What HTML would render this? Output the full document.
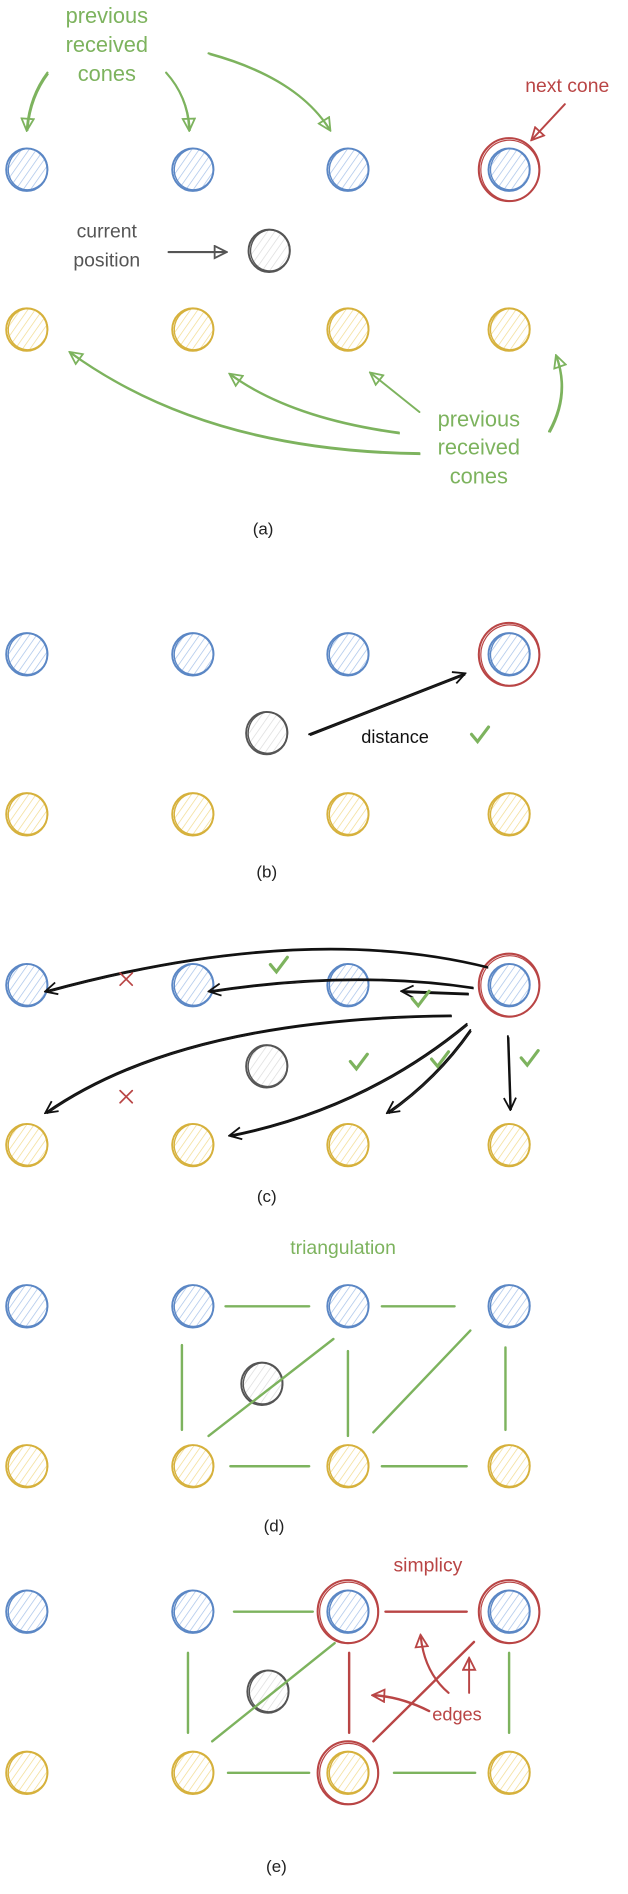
<!DOCTYPE html>
<html><head><meta charset="utf-8"><style>
html,body{margin:0;padding:0;background:#fff;}
svg{display:block;}
.hand{font-family:"Comic Sans MS","Liberation Sans",sans-serif;}
.cap{font-family:"Liberation Sans",sans-serif;font-size:14px;fill:#222;}
</style></head><body>
<svg id="s" width="628" height="1894" viewBox="0 0 518 1563" xmlns="http://www.w3.org/2000/svg">
<defs>
<pattern id="hb" width="5" height="5" patternUnits="userSpaceOnUse" patternTransform="rotate(35)"><line x1="0" y1="0" x2="0" y2="5" stroke="#a9c4ea" stroke-width="1.2"/></pattern>
<pattern id="hy" width="5" height="5" patternUnits="userSpaceOnUse" patternTransform="rotate(35)"><line x1="0" y1="0" x2="0" y2="5" stroke="#f3dc92" stroke-width="1.2"/></pattern>
<pattern id="hk" width="5" height="5" patternUnits="userSpaceOnUse" patternTransform="rotate(35)"><line x1="0" y1="0" x2="0" y2="5" stroke="#ddd" stroke-width="1.2"/></pattern>
<marker id="ag" viewBox="0 0 12 12" refX="10" refY="6" markerWidth="12" markerHeight="12" orient="auto" markerUnits="userSpaceOnUse"><path d="M1,1 L11,6 L1,11 Z" fill="none" stroke="#7db35e" stroke-width="1.5"/></marker>
<marker id="ar" viewBox="0 0 12 12" refX="10" refY="6" markerWidth="12" markerHeight="12" orient="auto" markerUnits="userSpaceOnUse"><path d="M1,1 L11,6 L1,11 Z" fill="none" stroke="#b94545" stroke-width="1.5"/></marker>
<marker id="ak" viewBox="0 0 12 12" refX="10" refY="6" markerWidth="12" markerHeight="12" orient="auto" markerUnits="userSpaceOnUse"><path d="M1,1 L11,6 L1,11" fill="none" stroke="#111" stroke-width="1.5"/></marker>
<marker id="ad" viewBox="0 0 12 12" refX="10" refY="6" markerWidth="12" markerHeight="12" orient="auto" markerUnits="userSpaceOnUse"><path d="M1,1 L11,6 L1,11 Z" fill="none" stroke="#555" stroke-width="1.5"/></marker>
</defs>
<g id="g"></g>
</svg>
<script>
const NS='http://www.w3.org/2000/svg';
const G=document.getElementById('g');
const colX=[22,159,287,420];
const BLUE='#5b87c5',YEL='#d6b13c',RED='#b94545',GRN='#7db35e',GRY='#555';
const panels=[
 {by:140,yy:272,cx:222,cy:207,reds:[[3,'b']]},
 {by:540,yy:672,cx:220,cy:605,reds:[[3,'b']]},
 {by:813,yy:945,cx:220,cy:880,reds:[[3,'b']]},
 {by:1078,yy:1210,cx:216,cy:1142,reds:[]},
 {by:1330,yy:1463,cx:221,cy:1396,reds:[[2,'b'],[3,'b'],[2,'y']]}
];
function mk(tag,attrs,parent){const e=document.createElementNS(NS,tag);for(const k in attrs)e.setAttribute(k,attrs[k]);(parent||G).appendChild(e);return e;}
function cone(x,y,stroke,fill,name){
  const g=mk('g',{});
  
  
  mk('ellipse',{cx:x,cy:y,rx:17,ry:17.5,fill:'url(#'+fill+')',stroke:stroke,'stroke-width':1.6},g);
  mk('ellipse',{cx:x+0.8,cy:y-0.6,rx:16.2,ry:17,fill:'none',stroke:stroke,'stroke-width':1.1,transform:'rotate(15 '+x+' '+y+')'},g);
}
function ring(x,y,name){
  const g=mk('g',{});
  
  
  mk('ellipse',{cx:x,cy:y,rx:25,ry:26,fill:'none',stroke:RED,'stroke-width':1.7},g);
  mk('ellipse',{cx:x+0.6,cy:y+0.8,rx:24,ry:25,fill:'none',stroke:RED,'stroke-width':1,transform:'rotate(-10 '+x+' '+y+')'},g);
}
panels.forEach((p,i)=>{
  colX.forEach((x,j)=>{cone(x,p.by,BLUE,'hb','blue-cone');cone(x,p.yy,YEL,'hy','yellow-cone');});
  cone(p.cx,p.cy,GRY,'hk','current-position-marker');
  p.reds.forEach(r=>ring(colX[r[0]],r[1]=='b'?p.by:p.yy,'next-cone-ring'));
});
function path(d,stroke,w,marker,name,dbl){
  const e=mk('path',{d:d,fill:'none',stroke:stroke,'stroke-width':w,'stroke-linecap':'round'});
  if(marker)e.setAttribute('marker-end','url(#'+marker+')');
  
  
  if(dbl){const f=mk('path',{d:d,fill:'none',stroke:stroke,'stroke-width':w*0.6,transform:'translate(0.8,1)'});}
  return e;
}
function text(x,y,s,color,size,name,anchor){
  const t=mk('text',{x:x,y:y,fill:color,'font-size':size,'text-anchor':anchor||'middle',class:'hand'});
  t.textContent=s;
  
  
}
function cap(x,y,s){const t=mk('text',{x:x,y:y,class:'cap','text-anchor':'middle'});t.textContent=s;}
function check(x,y){path('M'+(x-6)+','+(y-1)+' L'+(x-1)+','+(y+5)+' L'+(x+8)+','+(y-7),GRN,2.6,null,'check-mark');}
function cross(x,y){path('M'+(x-5)+','+(y-5)+' L'+(x+5)+','+(y+5)+' M'+(x+5)+','+(y-5)+' L'+(x-5)+','+(y+5),RED,1.4,null,'cross-mark');}

// (a)
text(88,19,'previous',GRN,18,'label-previous-top');
text(88,43,'received',GRN,18,'label-received-top');
text(88,67,'cones',GRN,18,'label-cones-top');
path('M39,60 Q24,80 22,107',GRN,1.8,'ag','arrow-prev-1',true);
path('M137,60 Q155,80 156,107',GRN,1.8,'ag','arrow-prev-2',true);
path('M172,44 Q245,64 272,107',GRN,1.8,'ag','arrow-prev-3',true);
text(468,76,'next cone',RED,16,'label-next-cone');
path('M466,86 L439,115',RED,1.6,'ar','arrow-next-cone');
text(88,196,'current',GRY,16,'label-current');
text(88,220,'position',GRY,16,'label-position');
path('M139,208 L186,208',GRY,1.8,'ad','arrow-current');
text(395,352,'previous',GRN,18,'label-previous-bottom');
text(395,375,'received',GRN,18,'label-received-bottom');
text(395,399,'cones',GRN,18,'label-cones-bottom');
path('M346,374 Q170,372 58,291',GRN,1.8,'ag','arrow-prev-4',true);
path('M329,357 Q240,345 190,309',GRN,1.8,'ag','arrow-prev-5',true);
path('M346,340 L306,308',GRN,1.6,'ag','arrow-prev-6');
path('M453,356 Q470,325 459,294',GRN,1.8,'ag','arrow-prev-7',true);
cap(217,441,'(a)');

// (b)
path('M255,606 L383,556',"#111",1.6,'ak','distance-arrow',true);
text(298,613,'distance','#111',15,'label-distance','start');
check(395,607);
cap(220,724,'(b)');

// (c)
path('M402,798 Q250,760 38,818','#111',1.6,'ak','edge-candidate-1',true);
path('M390,815 Q290,800 173,818','#111',1.6,'ak','edge-candidate-2',true);
path('M386,820 L332,818','#111',1.8,'ak','edge-candidate-3',true);
path('M372,838 Q150,840 38,918','#111',1.6,'ak','edge-candidate-4',true);
path('M385,845 Q300,915 190,937','#111',1.6,'ak','edge-candidate-5',true);
path('M388,850 Q360,890 320,918','#111',1.6,'ak','edge-candidate-6',true);
path('M419,855 L421,915','#111',1.6,'ak','edge-candidate-7',true);
cross(104,808);check(229,797);check(346,825);cross(104,905);check(295,877);check(362,875);check(436,874);
cap(220,992,'(c)');

// (d)
text(283,1035,'triangulation',GRN,16,'label-triangulation');
const dl=[[186,1078,255,1078],[315,1078,375,1078],[150,1110,150,1180],[172,1185,275,1105],[287,1115,287,1185],[308,1182,388,1098],[417,1112,417,1180],[190,1210,255,1210],[315,1210,385,1210]];
dl.forEach(l=>path('M'+l[0]+','+l[1]+' L'+l[2]+','+l[3],GRN,2,null,'triangulation-edge'));
cap(226,1264,'(d)');

// (e)
text(353,1297,'simplicy',RED,16,'label-simplicy');
const el=[[193,1330,258,1330,GRN],[318,1330,385,1330,RED],[155,1364,155,1430,GRN],[276,1356,175,1437,GRN],[288,1364,288,1430,RED],[391,1355,308,1437,RED],[420,1364,420,1430,GRN],[188,1463,255,1463,GRN],[325,1463,392,1463,GRN]];
el.forEach(l=>path('M'+l[0]+','+l[1]+' L'+l[2]+','+l[3],l[4],2,null,'simplex-edge'));
path('M354,1412 Q330,1400 308,1399',RED,2,'ar','arrow-edges-1');
path('M370,1397 Q350,1380 347,1350',RED,1.8,'ar','arrow-edges-2');
path('M387,1397 L387,1369',RED,1.6,'ar','arrow-edges-3');
text(377,1420,'edges',RED,15,'label-edges');
cap(228,1545,'(e)');
</script>
</body></html>
